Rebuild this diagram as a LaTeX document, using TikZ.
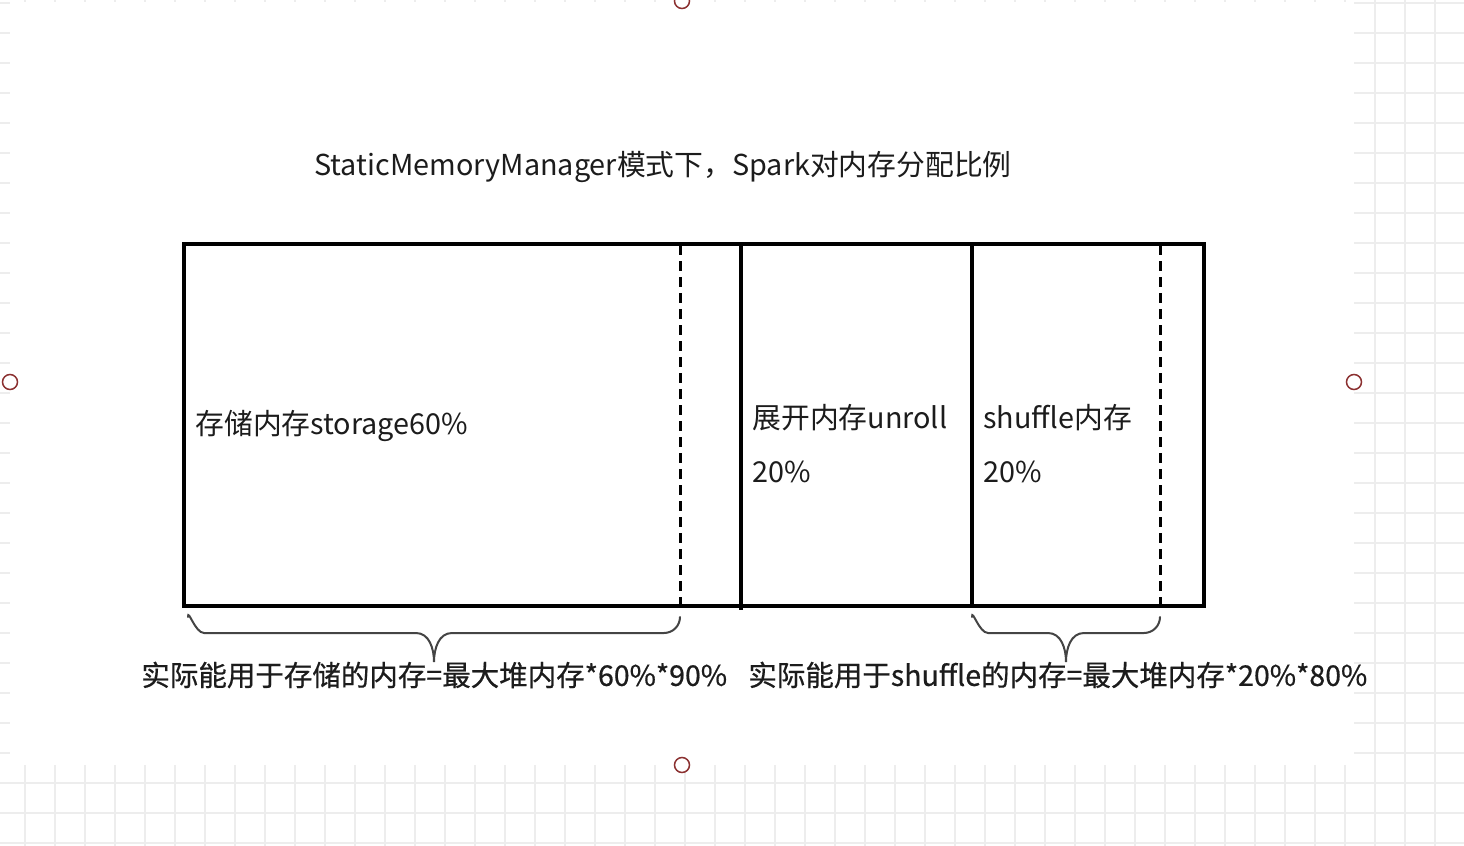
\documentclass[tikz,border=0pt]{standalone}
\usepackage{fontspec}
\setmainfont{Noto Sans CJK SC}
\newfontfamily\eqfont[FakeBold=0.6]{Noto Sans CJK SC}
\usetikzlibrary{positioning}
\definecolor{gridgray}{HTML}{EDEDED}
\definecolor{handlered}{HTML}{8B3030}
\definecolor{ink}{HTML}{1C1C1C}
\definecolor{braceink}{HTML}{444444}

\tikzset{
  boxline/.style={draw=black, line width=2.2pt},
  divline/.style={draw=black, line width=1.7pt},
  cutline/.style={draw=black, line width=1.2pt, dash pattern=on 5pt off 3pt},
  braceline/.style={draw=braceink, line width=1pt, line cap=round},
  boxtext/.style={anchor=west, inner sep=0pt, text=ink, align=left,
    font=\fontsize{14.4}{27}\selectfont},
  eqtext/.style={anchor=west, inner sep=0pt, text=ink,
    font=\eqfont\fontsize{14.25}{16}\selectfont},
  handle/.style={circle, draw=handlered, fill=white, line width=0.75pt,
    minimum size=7.5pt, inner sep=0pt}
}

\begin{document}
\begin{tikzpicture}[x=0.5pt, y=-0.5pt]
  \clip (0,0) rectangle (1464,846);
  \useasboundingbox (0,0) rectangle (1464,846);
  % background grid of the canvas
  \foreach \gx in {25,55,...,1465}
    \draw[gridgray, line width=0.7pt] (\gx,0) -- (\gx,846);
  \foreach \gy in {3,33,...,843}
    \draw[gridgray, line width=0.7pt] (0,\gy) -- (1464,\gy);
  \fill[white] (10,2) rectangle (1354,765);

  % selection handles
  \node[handle] (hTop) at (682,1) {};
  \node[handle] (hLeft) at (10,382) {};
  \node[handle] (hRight) at (1354,382) {};
  \node[handle] (hBottom) at (682,765) {};

  \node[anchor=west, inner sep=0pt, text=ink, font=\fontsize{14.4}{16}\selectfont]
    (title) at (314,167) {StaticMemoryManager模式下，Spark对内存分配比例};

  % memory bar
  \coordinate (barNW) at (184,244);
  \coordinate (barSE) at (1204,606);
  \draw[boxline] (barNW) rectangle (barSE);
  \draw[divline] (741,244) -- (741,610);
  \draw[divline] (972,244) -- (972,606);
  \draw[cutline] (680.5,245) -- (680.5,605);
  \draw[cutline] (1160.5,245) -- (1160.5,605);

  \node[boxtext] (storage) at (195,426) {存储内存storage60\%};
  \node[boxtext] (unroll) at (752,444) {展开内存unroll\\20\%};
  \node[boxtext] (shuffle) at (983,444) {shuffle内存\\20\%};

  % braces under the usable parts
  \coordinate (storeL) at (188,617);
  \coordinate (storeR) at (680,617);
  \coordinate (storeTip) at (434,662);
  \coordinate (shufL) at (972,617);
  \coordinate (shufR) at (1160,617);
  \coordinate (shufTip) at (1066,662);
  \draw[braceline] (storeL) to[out=90,in=180] ++(16,16) -- (416,633)
    to[out=0,in=90] (storeTip) to[out=90,in=180] (452,633) -- (664,633)
    to[out=0,in=-90] (storeR);
  \draw[braceline] (shufL) to[out=90,in=180] ++(16,16) -- (1048,633)
    to[out=0,in=90] (shufTip) to[out=90,in=180] (1084,633) -- (1144,633)
    to[out=0,in=-90] (shufR);

  \node[eqtext] (storeEq) at (141,675) {实际能用于存储的内存=最大堆内存*60\%*90\%};
  \node[eqtext] (shufEq) at (748,675) {实际能用于shuffle的内存=最大堆内存*20\%*80\%};
\end{tikzpicture}
\end{document}
